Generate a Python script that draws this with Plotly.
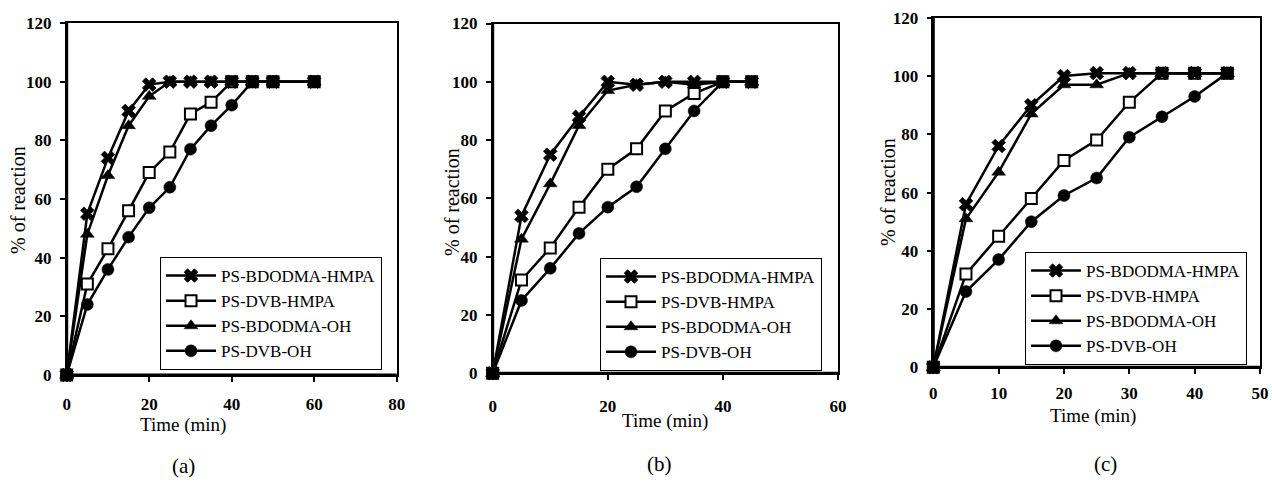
import plotly.graph_objects as go

# ---------------- data ----------------
series_names = ["PS-BDODMA-HMPA", "PS-DVB-HMPA", "PS-BDODMA-OH", "PS-DVB-OH"]

t_a = [0, 5, 10, 15, 20, 25, 30, 35, 40, 45, 50, 60]
a_bdodma_hmpa = [0, 55, 74, 90, 99, 100, 100, 100, 100, 100, 100, 100]
a_dvb_hmpa = [0, 31, 43, 56, 69, 76, 89, 93, 100, 100, 100, 100]
a_bdodma_oh = [0, 48, 68, 85, 95, 100, 100, 100, 100, 100, 100, 100]
a_dvb_oh = [0, 24, 36, 47, 57, 64, 77, 85, 92, 100, 100, 100]

t_b = [0, 5, 10, 15, 20, 25, 30, 35, 40, 45]
b_bdodma_hmpa = [0, 54, 75, 88, 100, 99, 100, 100, 100, 100]
b_dvb_hmpa = [0, 32, 43, 57, 70, 77, 90, 96, 100, 100]
b_bdodma_oh = [0, 46, 65, 85, 97, 99, 100, 99, 100, 100]
b_dvb_oh = [0, 25, 36, 48, 57, 64, 77, 90, 100, 100]

t_c = [0, 5, 10, 15, 20, 25, 30, 35, 40, 45]
c_bdodma_hmpa = [0, 56, 76, 90, 100, 101, 101, 101, 101, 101]
c_dvb_hmpa = [0, 32, 45, 58, 71, 78, 91, 101, 101, 101]
c_bdodma_oh = [0, 51, 67, 87, 97, 97, 101, 101, 101, 101]
c_dvb_oh = [0, 26, 37, 50, 59, 65, 79, 86, 93, 101]

y_ticks = [0, 20, 40, 60, 80, 100, 120]
x_ticks_a = [0, 20, 40, 60, 80]
x_ticks_b = [0, 20, 40, 60]
x_ticks_c = [0, 10, 20, 30, 40, 50]
panel_labels = ["(a)", "(b)", "(c)"]
x_title = "Time (min)"
y_title = "% of reaction"

# ---------------- styles ----------------
SERIF = "Liberation Serif"
markers = [
    dict(symbol="x", size=12, color="black", line=dict(width=0.8, color="black")),
    dict(symbol="square", size=11, color="white", line=dict(width=2, color="black")),
    dict(symbol="triangle-up", size=12, color="black", line=dict(width=0.5, color="black")),
    dict(symbol="circle", size=12, color="black", line=dict(width=0.5, color="black")),
]
draw_order = [1, 3, 2, 0]  # open squares first so the others sit on top

panels = [
    (t_a, [a_bdodma_hmpa, a_dvb_hmpa, a_bdodma_oh, a_dvb_oh], "x", "y", "legend"),
    (t_b, [b_bdodma_hmpa, b_dvb_hmpa, b_bdodma_oh, b_dvb_oh], "x2", "y2", "legend2"),
    (t_c, [c_bdodma_hmpa, c_dvb_hmpa, c_bdodma_oh, c_dvb_oh], "x3", "y3", "legend3"),
]

fig = go.Figure()
for t, ys, xa, ya, lg in panels:
    for i in draw_order:
        fig.add_trace(go.Scatter(
            x=t, y=ys[i], name=series_names[i], mode="lines+markers",
            line=dict(color="black", width=2.5), marker=markers[i],
            xaxis=xa, yaxis=ya, legend=lg, legendrank=i + 1,
            legendgroup=lg + str(i), cliponaxis=False,
        ))

W, H = 1272, 490


def px2x(p):
    return p / W


def px2y(p):
    return 1 - p / H


tickfont = dict(family=SERIF, size=17, color="black")
common_axis = dict(showline=True, linecolor="black", linewidth=1.5, mirror=True,
                   showgrid=False, zeroline=False, ticks="outside", ticklen=5,
                   tickcolor="black", tickwidth=1.5, tickfont=tickfont,
                   automargin=False)

geo = [
    # x0px, x1px, xmax, xticks, ybottom, ytop, xstandoff
    (66.7, 396.7, 80, x_ticks_a, 375.0, 23.0, 8),
    (492.7, 838.0, 60, x_ticks_b, 373.3, 23.5, 12),
    (933.3, 1260.0, 50, x_ticks_c, 367.3, 17.8, 5),
]
layout_axes = {}
shapes = []
for k, (x0, x1, xmax, xt, yb, yt, so) in enumerate(geo):
    sfx = "" if k == 0 else str(k + 1)
    layout_axes["xaxis" + sfx] = dict(
        common_axis, domain=[px2x(x0), px2x(x1)], range=[0, xmax],
        tickvals=xt, ticktext=["<b>%d</b>" % v for v in xt],
        ticklabelstandoff=so, anchor="y" + sfx)
    layout_axes["yaxis" + sfx] = dict(
        common_axis, domain=[px2y(yb), px2y(yt)], range=[0, 120],
        tickvals=y_ticks, ticktext=["<b>%d</b>" % v for v in y_ticks],
        ticklabelstandoff=5, anchor="x" + sfx)
    # heavier left and bottom axis lines
    xr, yr = "x%s domain" % sfx, "y%s domain" % sfx
    shapes.append(dict(type="line", xref=xr, yref=yr, x0=0, x1=1, y0=0, y1=0,
                       line=dict(color="black", width=3), layer="above"))
    shapes.append(dict(type="line", xref=xr, yref=yr, x0=0, x1=0, y0=0, y1=1,
                       line=dict(color="black", width=3), layer="above"))

legend_common = dict(bgcolor="white", bordercolor="black", borderwidth=1,
                     font=dict(family=SERIF, size=17, color="black"),
                     xanchor="left", yanchor="top", traceorder="grouped",
                     tracegroupgap=0, itemwidth=50)
legend_pos = [(160, 257), (600, 258), (1025, 252)]

annotations = []
xtitle_pos = [(183, 425), (665, 421), (1093, 416)]
ytitle_pos = [(18, 200), (452, 202), (888, 192)]
plabel_pos = [(183, 466), (659, 464), (1105, 464)]
for k in range(3):
    annotations.append(dict(text=x_title, x=px2x(xtitle_pos[k][0]), y=px2y(xtitle_pos[k][1]),
                            xref="paper", yref="paper", showarrow=False,
                            xanchor="center", yanchor="middle",
                            font=dict(family=SERIF, size=19, color="black")))
    annotations.append(dict(text=y_title, x=px2x(ytitle_pos[k][0]), y=px2y(ytitle_pos[k][1]),
                            xref="paper", yref="paper", showarrow=False, textangle=-90,
                            xanchor="center", yanchor="middle",
                            font=dict(family=SERIF, size=20, color="black")))
    annotations.append(dict(text=panel_labels[k], x=px2x(plabel_pos[k][0]), y=px2y(plabel_pos[k][1]),
                            xref="paper", yref="paper", showarrow=False,
                            xanchor="center", yanchor="middle",
                            font=dict(family=SERIF, size=21, color="black")))

fig.update_layout(
    template="none",
    width=W, height=H, margin=dict(l=0, r=0, t=0, b=0, pad=0, autoexpand=False),
    paper_bgcolor="white", plot_bgcolor="white",
    annotations=annotations, shapes=shapes,
    legend=dict(legend_common, x=px2x(legend_pos[0][0]), y=px2y(legend_pos[0][1])),
    legend2=dict(legend_common, x=px2x(legend_pos[1][0]), y=px2y(legend_pos[1][1])),
    legend3=dict(legend_common, x=px2x(legend_pos[2][0]), y=px2y(legend_pos[2][1])),
    **layout_axes,
)

fig.write_html("out.html")
